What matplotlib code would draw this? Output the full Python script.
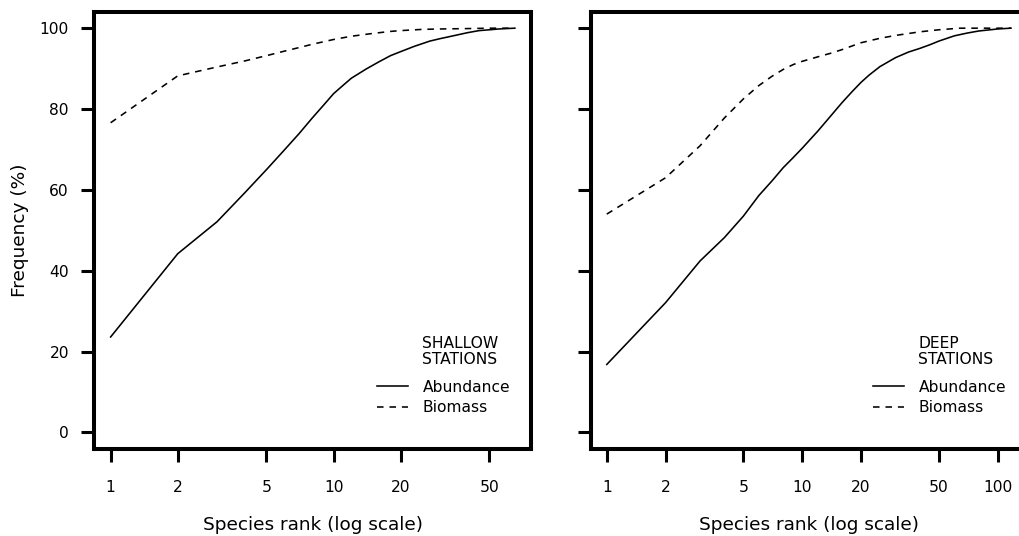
import numpy as np
import matplotlib
matplotlib.use("Agg")
import matplotlib.pyplot as plt
from matplotlib.ticker import FixedLocator, FixedFormatter, NullLocator

# cumulative frequency (%) against species rank, read at selected ranks
shallow_ranks = [1, 2, 3, 4, 5, 6, 7, 8, 9, 10, 11, 12, 14, 16, 18, 20, 23, 27, 30, 35, 40, 45, 50, 55, 65]
shallow_abund = [23.6, 44.2, 52.1, 59.3, 65.0, 69.8, 73.9, 77.7, 80.9, 83.8, 85.8, 87.6, 89.9, 91.7,
                 93.2, 94.2, 95.5, 96.8, 97.4, 98.2, 98.9, 99.4, 99.6, 99.8, 100.0]
shallow_bio_ranks = [1, 2, 3, 4, 5, 6, 7, 8, 10, 12, 15, 18, 20, 25, 30, 40, 50, 65]
shallow_bio = [76.6, 88.2, 90.4, 91.9, 93.2, 94.3, 95.2, 96.0, 97.2, 98.0, 98.7, 99.2, 99.4,
               99.7, 99.8, 99.9, 100.0, 100.0]

deep_ranks = [1, 2, 3, 4, 5, 6, 7, 8, 9, 10, 11, 12, 14, 16, 18, 20, 22, 25, 30, 35, 40, 45, 50,
              60, 70, 80, 100, 117]
deep_abund = [16.8, 32.1, 42.4, 48.2, 53.5, 58.6, 62.2, 65.5, 68.0, 70.3, 72.5, 74.5, 78.3, 81.6,
              84.3, 86.6, 88.4, 90.5, 92.7, 94.1, 95.0, 95.9, 96.8, 98.1, 98.8, 99.3, 99.8, 100.0]
deep_bio_ranks = [1, 2, 3, 4, 5, 6, 7, 8, 9, 10, 12, 14, 16, 18, 20, 25, 30, 40, 50, 64, 117]
deep_bio = [54.0, 63.0, 70.9, 77.8, 82.5, 85.8, 88.1, 89.8, 91.0, 91.8, 92.9, 93.8, 94.7, 95.6,
            96.4, 97.5, 98.2, 99.1, 99.6, 100.0, 100.0]

yticks = [0, 20, 40, 60, 80, 100]
shallow_xticks = [1, 2, 5, 10, 20, 50]
deep_xticks = [1, 2, 5, 10, 20, 50, 100]

panels = [
    dict(pos=[0.0927, 0.1632, 0.4284, 0.8144], n=65, ab=(shallow_ranks, shallow_abund),
         bio=(shallow_bio_ranks, shallow_bio), xt=shallow_xticks, title="SHALLOW\nSTATIONS", ylab=True),
    dict(pos=[0.5796, 0.1632, 0.4284, 0.8144], n=117, ab=(deep_ranks, deep_abund),
         bio=(deep_bio_ranks, deep_bio), xt=deep_xticks, title="DEEP\nSTATIONS", ylab=False),
]

fig = plt.figure(figsize=(10.19, 5.36), dpi=100)

for p in panels:
    ax = fig.add_axes(p["pos"])
    ab_line, = ax.plot(p["ab"][0], p["ab"][1], color="black", lw=1.15, label="Abundance")
    bio_line, = ax.plot(p["bio"][0], p["bio"][1], color="black", lw=1.15, label="Biomass")
    bio_line.set_dashes((4.1, 3.7))

    ax.set_xscale("log")
    L = np.log10(p["n"])
    ax.set_xlim(10 ** (-0.04 * L), 10 ** (1.04 * L))
    ax.set_ylim(-4, 104)

    ax.xaxis.set_major_locator(FixedLocator(p["xt"]))
    ax.xaxis.set_major_formatter(FixedFormatter([str(v) for v in p["xt"]]))
    ax.xaxis.set_minor_locator(NullLocator())
    ax.set_yticks(yticks)
    if not p["ylab"]:
        ax.set_yticklabels([])

    for s in ax.spines.values():
        s.set_linewidth(2.9)
    ax.tick_params(axis="both", length=9.4, width=2.2, labelsize=11.2)
    ax.tick_params(axis="x", pad=13.5)
    ax.tick_params(axis="y", pad=9.0)

    ax.set_xlabel("Species rank (log scale)", fontsize=13.3)
    ax.xaxis.set_label_coords(0.5, -0.175)
    ax.xaxis.label.set_va("center")
    if p["ylab"]:
        ax.set_ylabel("Frequency (%)", fontsize=13.3)
        ax.yaxis.set_label_coords(-0.1707, 0.5)
        ax.yaxis.label.set_va("center")

    ax.text(0.751, 0.2226, p["title"], transform=ax.transAxes, fontsize=11.2,
            ha="left", va="center", linespacing=1.1)
    ax.legend(handles=[ab_line, bio_line], loc="center left", bbox_to_anchor=(0.647, 0.1173),
              frameon=False, fontsize=11.2, handlelength=2.0, handletextpad=0.93,
              labelspacing=0.35, borderpad=0, borderaxespad=0)

fig.savefig("out.png", dpi=100)
